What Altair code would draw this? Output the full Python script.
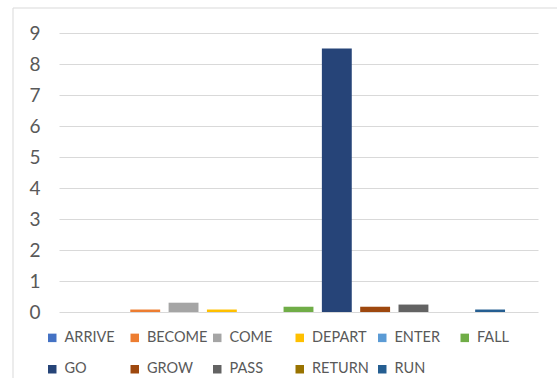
import altair as alt
import pandas as pd

categories = ["ARRIVE", "BECOME", "COME", "DEPART", "ENTER", "FALL",
              "GO", "GROW", "PASS", "RETURN", "RUN"]
values = [0, 0.08, 0.3, 0.08, 0, 0.17, 8.5, 0.17, 0.24, 0, 0.08]
colors = ["#4472C4", "#ED7D31", "#A5A5A5", "#FFC000", "#5B9BD5", "#70AD47",
          "#264478", "#9E480E", "#636363", "#997300", "#255E91"]
y_ticks = list(range(10))

df = pd.DataFrame({"verb": categories, "value": values})

bars = alt.Chart(df).mark_bar().encode(
    x=alt.X("verb:N", sort=categories, axis=None,
            scale=alt.Scale(paddingInner=0.22, paddingOuter=0.86)),
    y=alt.Y("value:Q", scale=alt.Scale(domain=[0, 9], nice=False),
            axis=alt.Axis(values=y_ticks, title=None, domain=False, ticks=False,
                          labelFontSize=19, labelColor="#595959", labelFont="Lato",
                          labelPadding=19, gridColor="#d9d9d9", gridWidth=1)),
    color=alt.Color("verb:N", sort=categories,
                    scale=alt.Scale(domain=categories, range=colors),
                    legend=alt.Legend(orient="none", legendX=-14, legendY=297.5,
                                      columns=6, symbolType="square", symbolSize=72,
                                      symbolStrokeWidth=0, labelFont="Lato",
                                      labelFontSize=14.5, labelColor="#595959",
                                      columnPadding=2.5, rowPadding=16.5, gridAlign="all",
                                      title=None, labelOffset=5, direction="horizontal")),
)

border = alt.Chart(pd.DataFrame({"a": [0]})).mark_rect(
    fillOpacity=0, stroke="#d9d9d9", strokeWidth=1
).encode(x=alt.value(-46), x2=alt.value(600), y=alt.value(-25), y2=alt.value(400))

chart = alt.layer(border, bars).properties(
    width=479, height=279,
    autosize=alt.AutoSizeParams(type="none"),
    padding={"left": 59, "top": 33, "right": 19, "bottom": 66},
    background="white",
).configure_view(stroke="transparent")

chart.save("out.html", embed_options={"renderer": "svg", "actions": False})
